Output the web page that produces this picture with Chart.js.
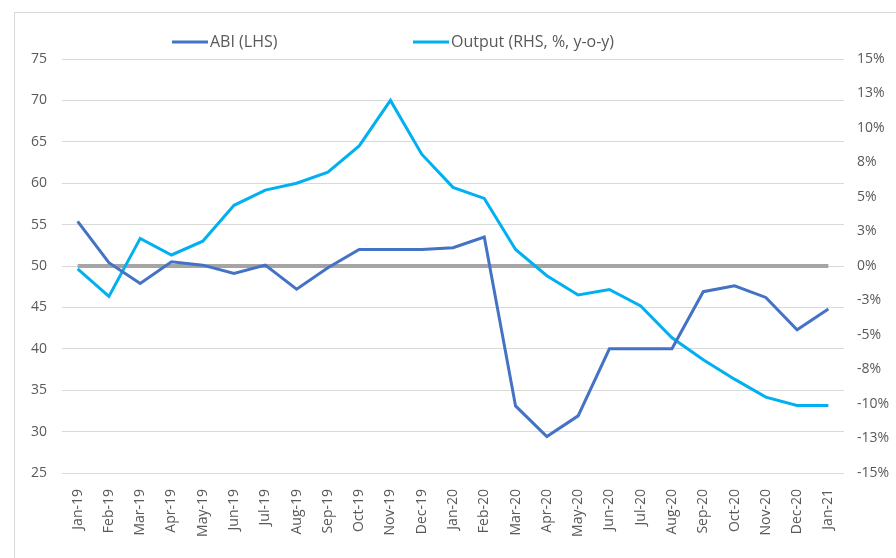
<!DOCTYPE html>
<html>
<head>
<meta charset="utf-8">
<script src="https://cdn.jsdelivr.net/npm/chart.js@4.4.1/dist/chart.umd.min.js"></script>
<style>
  html, body { margin: 0; padding: 0; background: #ffffff; }
  #wrap { position: relative; width: 896px; height: 558px; overflow: hidden; }
  #frame { position: absolute; left: 14px; top: 12px; width: 1000px; height: 700px; border: 1px solid #d9d9d9; box-sizing: border-box; }
  canvas { position: absolute; left: 0; top: 0; }
</style>
</head>
<body>
<div id="wrap">
  <div id="frame"></div>
  <canvas id="c" width="896" height="558"></canvas>
</div>
<script>
const categories = ["Jan-19","Feb-19","Mar-19","Apr-19","May-19","Jun-19","Jul-19","Aug-19","Sep-19","Oct-19","Nov-19","Dec-19",
                    "Jan-20","Feb-20","Mar-20","Apr-20","May-20","Jun-20","Jul-20","Aug-20","Sep-20","Oct-20","Nov-20","Dec-20","Jan-21"];
const abiLHS = [55.4, 50.4, 47.9, 50.5, 50.1, 49.1, 50.1, 47.2, 49.8, 52.0, 52.0, 52.0,
                52.2, 53.5, 33.1, 29.4, 31.9, 40.0, 40.0, 40.0, 46.9, 47.6, 46.2, 42.3, 44.8];
const outputRHS = [-0.2, -2.2, 2.0, 0.8, 1.8, 4.4, 5.5, 6.0, 6.8, 8.7, 12.0, 8.1,
                   5.7, 4.9, 1.2, -0.7, -2.1, -1.7, -2.9, -5.2, -6.8, -8.2, -9.5, -10.1, -10.1];
const referenceLine = [50,50,50,50,50,50,50,50,50,50,50,50,50,50,50,50,50,50,50,50,50,50,50,50,50];
const leftTicks = [25, 75, 5];
const rightTicks = [-15, 15, 2.5];
const legendLabels = ["ABI (LHS)", "Output (RHS, %, y-o-y)"];

const FONT = "'Open Sans', 'Liberation Sans', sans-serif";
const TXT = "#595959";
const C_ABI = "#4472C4";
const C_OUT = "#00B0F0";
const C_REF = "#A5A5A5";

const customLegend = {
  id: 'customLegend',
  afterDraw(chart) {
    const ctx = chart.ctx;
    const items = [
      { x: 172, color: C_ABI, text: legendLabels[0] },
      { x: 413, color: C_OUT, text: legendLabels[1] }
    ];
    const y = 42;
    ctx.save();
    ctx.font = "16px " + FONT;
    ctx.textBaseline = 'middle';
    ctx.textAlign = 'left';
    items.forEach(it => {
      ctx.strokeStyle = it.color;
      ctx.lineWidth = 3;
      ctx.beginPath();
      ctx.moveTo(it.x, y);
      ctx.lineTo(it.x + 36, y);
      ctx.stroke();
      ctx.fillStyle = TXT;
      ctx.fillText(it.text, it.x + 38, y);
    });
    ctx.restore();
  }
};

new Chart(document.getElementById('c'), {
  type: 'line',
  data: {
    labels: categories,
    datasets: [
      { label: legendLabels[0], data: abiLHS, yAxisID: 'y', borderColor: C_ABI, backgroundColor: C_ABI,
        borderWidth: 3, pointRadius: 0, tension: 0, fill: false },
      { label: legendLabels[1], data: outputRHS, yAxisID: 'y1', borderColor: C_OUT, backgroundColor: C_OUT,
        borderWidth: 3, pointRadius: 0, tension: 0, fill: false },
      { label: 'ref', data: referenceLine, yAxisID: 'y', borderColor: C_REF, backgroundColor: C_REF,
        borderWidth: 4, pointRadius: 0, tension: 0, fill: false, borderCapStyle: 'butt' }
    ]
  },
  options: {
    responsive: false,
    animation: false,
    devicePixelRatio: 1,
    layout: { padding: { top: 59, left: 0, right: 0, bottom: 0 } },
    plugins: { legend: { display: false }, tooltip: { enabled: false } },
    scales: {
      x: {
        type: 'category',
        offset: true,
        grid: { display: false },
        border: { display: false },
        ticks: { color: TXT, font: { family: FONT, size: 14 }, minRotation: 90, maxRotation: 90, padding: 8, autoSkip: false },
        afterFit(s) { s.height = 85; }
      },
      y: {
        position: 'left',
        min: leftTicks[0], max: leftTicks[1],
        ticks: { stepSize: leftTicks[2], color: TXT, font: { family: FONT, size: 14 }, padding: 15 },
        grid: { color: '#D9D9D9', lineWidth: 1, drawTicks: false },
        border: { display: false },
        afterFit(s) { s.width = 62; }
      },
      y1: {
        position: 'right',
        min: rightTicks[0], max: rightTicks[1],
        ticks: { stepSize: rightTicks[2], color: TXT, font: { family: FONT, size: 14 }, padding: 13,
          callback: v => (v < 0 ? '-' : '') + Math.round(Math.abs(v)) + '%' },
        grid: { display: false, drawTicks: false },
        border: { display: false },
        afterFit(s) { s.width = 52; }
      }
    }
  },
  plugins: [customLegend]
});
</script>
</body>
</html>
